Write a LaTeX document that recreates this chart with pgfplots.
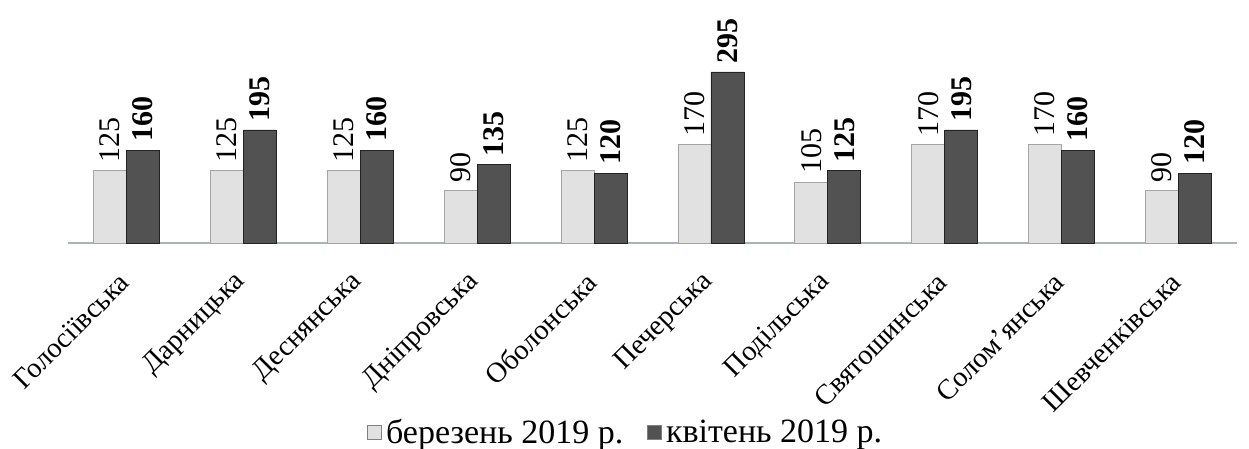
\documentclass[border=0pt]{standalone}
\usepackage{pgfplots}
\pgfplotsset{compat=1.18}
\usepackage{fontspec}
\setmainfont{Liberation Serif}
\definecolor{lightbar}{RGB}{225,225,225}
\definecolor{lightedge}{RGB}{165,165,165}
\definecolor{darkbar}{RGB}{82,82,82}
\definecolor{darkedge}{RGB}{35,35,35}
\definecolor{axisline}{RGB}{170,178,186}
\begin{document}
\begin{tikzpicture}[font=\rmfamily]
\path[use as bounding box] (-34pt,-103pt) rectangle (590.5pt,121.5pt);
\begin{axis}[
  at={(0,0)}, anchor=south west,
  scale only axis, width=584.5pt, height=87pt,
  ymin=0, ymax=300, xmin=-0.5, xmax=9.5,
  clip=false,
  axis y line=none,
  axis x line*=bottom,
  x axis line style={axisline, line width=0.8pt, -},
  ybar, bar width=16.5pt,
  xtick={0,...,9},
  xticklabels={Голосіївська,Дарницька,Деснянська,Дніпровська,Оболонська,Печерська,Подільська,Святошинська,Солом’янська,Шевченківська},
  xticklabel style={rotate=45, anchor=east, font=\rmfamily\fontsize{14.2}{16}\selectfont, inner sep=1pt, yshift=-8.5pt, xshift=-9pt},
  major x tick style={draw=none},
  extra x ticks={-0.5,0.5,...,9.5},
  extra x tick labels={},
  extra x tick style={tick style={draw=gray, line width=0.5pt}, major tick length=4pt, tick align=outside},
  /pgf/number format/assume math mode=true,
  nodes near coords,
  legend style={at={(0.478,-1.09)}, anchor=center, draw=none, legend columns=2, font=\rmfamily\fontsize{17}{19}\selectfont, /tikz/every even column/.append style={column sep=10pt}},
  legend image code/.code={\draw[#1, draw=gray] (0pt,-3.5pt) rectangle (7pt,3.5pt);},
]
\addplot[fill=lightbar, draw=lightedge, bar shift=-8.25pt,
  every node near coord/.append style={rotate=90, anchor=west, font=\rmfamily\fontsize{15}{17}\selectfont, inner sep=4pt}]
  coordinates {(0,125) (1,125) (2,125) (3,90) (4,125) (5,170) (6,105) (7,170) (8,170) (9,90)};
\addplot[fill=darkbar, draw=darkedge, bar shift=8.25pt,
  every node near coord/.append style={rotate=90, anchor=west, font=\rmfamily\fontsize{15}{17}\selectfont\bfseries, inner sep=4pt}]
  coordinates {(0,160) (1,195) (2,160) (3,135) (4,120) (5,295) (6,125) (7,195) (8,160) (9,120)};
\legend{березень 2019 р., квітень 2019 р.}
\end{axis}
\end{tikzpicture}
\end{document}
